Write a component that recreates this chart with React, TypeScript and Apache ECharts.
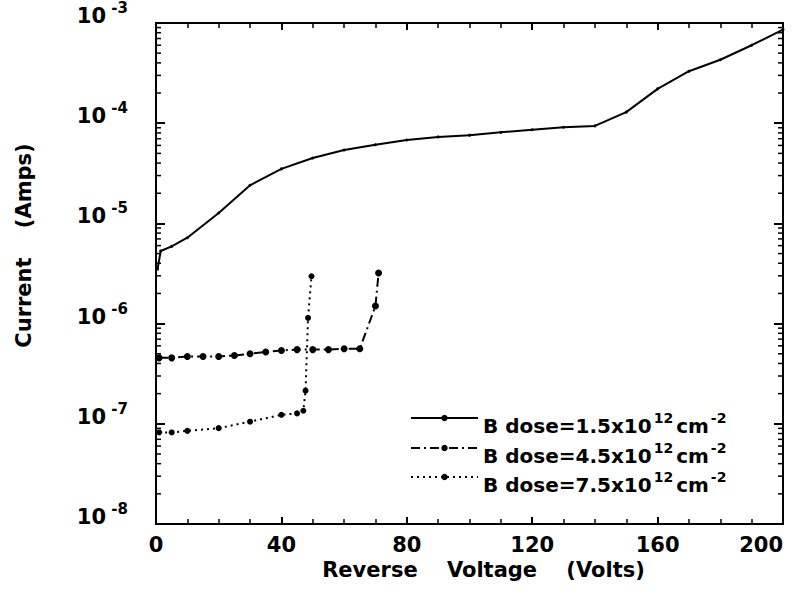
import React, { useEffect, useRef } from 'react';
import * as echarts from 'echarts';

// Reverse voltage (V) / current (A)
const voltsA = [0.5, 1.5, 5, 10, 20, 30, 40, 50, 60, 70, 80, 90, 100, 110, 120, 130, 140, 150, 160, 170, 180, 190, 200];
const currentA = [3.5e-6, 5.3e-6, 5.9e-6, 7.2e-6, 1.27e-5, 2.4e-5, 3.5e-5, 4.5e-5, 5.4e-5, 6.1e-5, 6.8e-5, 7.3e-5, 7.6e-5, 8.1e-5, 8.6e-5, 9.1e-5, 9.4e-5, 1.29e-4, 2.2e-4, 3.3e-4, 4.3e-4, 6.0e-4, 8.6e-4];

const voltsB = [1, 5, 10, 15, 20, 25, 30, 35, 40, 45, 50, 55, 60, 65, 70, 71];
const currentB = [4.55e-7, 4.55e-7, 4.7e-7, 4.7e-7, 4.7e-7, 4.8e-7, 5.0e-7, 5.2e-7, 5.4e-7, 5.5e-7, 5.5e-7, 5.5e-7, 5.6e-7, 5.6e-7, 1.5e-6, 3.2e-6];

const voltsC = [1, 5, 10, 20, 30, 40, 45, 47, 47.7, 48.5, 49.6];
const currentC = [8.2e-8, 8.2e-8, 8.5e-8, 9.05e-8, 1.05e-7, 1.23e-7, 1.27e-7, 1.35e-7, 2.14e-7, 1.14e-6, 2.97e-6];

const doses = ['1.5', '4.5', '7.5'];
const seriesNames = doses.map((d) => `B dose=${d}x10^12cm^-2`);

const xMin = 0;
const xMax = 200;
const xInterval = 40;
const yMin = 1e-8;
const yMax = 1e-3;

const FONT = 'DejaVu Sans';

function pairs(xs: number[], ys: number[]) {
  return xs.map((x, i) => [x, ys[i]]);
}

export default function App() {
  const ref = useRef<HTMLDivElement>(null);
  useEffect(() => {
    if (!ref.current) return;
    const chart = echarts.init(ref.current, undefined, { renderer: 'svg' });

    const minorVals: number[] = [];
    for (let e = -8; e < -3; e++) {
      for (let k = 2; k <= 9; k++) minorVals.push(k * Math.pow(10, e));
    }

    const black = '#000';
    const xAxisBase = {
      type: 'value',
      min: xMin,
      max: xMax,
      interval: xInterval,
      axisLine: { show: true, onZero: false, lineStyle: { color: black, width: 2 } },
      axisTick: { show: true, inside: true, length: 7, lineStyle: { color: black, width: 2 } },
      minorTick: { show: true, splitNumber: 4, length: 5, lineStyle: { color: black, width: 1.5 } },
      splitLine: { show: false },
      minorSplitLine: { show: false },
    };
    const yAxisBase = {
      type: 'log',
      logBase: 10,
      min: yMin,
      max: yMax,
      axisLine: { show: true, onZero: false, lineStyle: { color: black, width: 2 } },
      axisTick: { show: true, inside: true, length: 9, lineStyle: { color: black, width: 2 } },
      minorTick: { show: false },
      splitLine: { show: false },
    };

    const legendRich = {
      b: {
        fontFamily: FONT,
        fontWeight: 'bold',
        fontSize: 20,
        lineHeight: 18,
        color: black,
        padding: [16, 0, 0, 0],
      },
      s: {
        fontFamily: FONT,
        fontWeight: 'bold',
        fontSize: 14,
        lineHeight: 14,
        color: black,
        verticalAlign: 'top',
        padding: [2, 3, 0, 2],
      },
    };
    const legendTops = [400, 430, 459];

    const option: any = {
      animation: false,
      backgroundColor: '#fff',
      grid: [
        { left: 156, right: 24, top: 23, bottom: 82, containLabel: false, outerBoundsMode: 'none' },
        // same scale, raised, only used to place the exponents as superscripts
        { left: 156, right: 24, top: 8, bottom: 97, containLabel: false, outerBoundsMode: 'none' },
      ],
      xAxis: [
        {
          ...xAxisBase,
          gridIndex: 0,
          position: 'bottom',
          axisLabel: {
            color: black,
            fontSize: 21,
            fontWeight: 'bold',
            fontFamily: FONT,
            margin: 10,
            alignMaxLabel: 'right',
          },
          name: 'Reverse    Voltage    (Volts)',
          nameLocation: 'middle',
          nameGap: 30,
          nameTextStyle: {
            color: black,
            fontSize: 21,
            fontWeight: 'bold',
            fontFamily: FONT,
            padding: [0, 0, 0, 28],
          },
        },
        {
          ...xAxisBase,
          gridIndex: 0,
          position: 'top',
          axisLabel: { show: false },
        },
        {
          type: 'value',
          gridIndex: 1,
          min: xMin,
          max: xMax,
          interval: xInterval,
          show: false,
        },
      ],
      yAxis: [
        {
          ...yAxisBase,
          gridIndex: 0,
          position: 'left',
          axisLabel: {
            color: black,
            fontFamily: FONT,
            fontWeight: 'bold',
            fontSize: 21,
            lineHeight: 14,
            margin: 50,
            verticalAlign: 'bottom',
            formatter: () => '10',
          },
          name: 'Current    (Amps)',
          nameLocation: 'middle',
          nameGap: 122,
          nameTextStyle: {
            color: black,
            fontSize: 21,
            fontWeight: 'bold',
            fontFamily: FONT,
            padding: [0, 0, 0, 56],
          },
        },
        {
          ...yAxisBase,
          gridIndex: 0,
          position: 'right',
          axisLabel: { show: false },
        },
        {
          ...yAxisBase,
          gridIndex: 1,
          position: 'left',
          axisLine: { show: false },
          axisTick: { show: false },
          axisLabel: {
            color: black,
            fontFamily: FONT,
            fontWeight: 'bold',
            fontSize: 15,
            lineHeight: 15,
            margin: 28,
            formatter: (v: number) => `${Math.round(Math.log10(v))}`,
          },
        },
      ],
      legend: doses.map((d, i) => ({
        data: [seriesNames[i]],
        left: 410,
        top: legendTops[i],
        orient: 'vertical',
        padding: 0,
        itemWidth: 67,
        itemHeight: 8,
        selectedMode: false,
        formatter: () => `{b|B dose=${d}x10}{s|12}{b|cm}{s|-2}`,
        textStyle: { color: black, rich: legendRich },
      })),
      series: [
        {
          name: seriesNames[0],
          type: 'line',
          xAxisIndex: 0,
          yAxisIndex: 0,
          data: pairs(voltsA, currentA),
          symbol: 'circle',
          symbolSize: 3,
          showSymbol: true,
          itemStyle: { color: black },
          lineStyle: { color: black, width: 2, type: 'solid' },
          z: 3,
        },
        {
          name: seriesNames[1],
          type: 'line',
          xAxisIndex: 0,
          yAxisIndex: 0,
          data: pairs(voltsB, currentB),
          symbol: 'circle',
          symbolSize: 7,
          showSymbol: true,
          itemStyle: { color: black },
          lineStyle: { color: black, width: 2, type: [9, 4, 2, 4] },
          z: 3,
        },
        {
          name: seriesNames[2],
          type: 'line',
          xAxisIndex: 0,
          yAxisIndex: 0,
          data: pairs(voltsC, currentC),
          symbol: 'circle',
          symbolSize: 6,
          showSymbol: true,
          itemStyle: { color: black },
          lineStyle: { color: black, width: 2, type: [2, 4] },
          z: 3,
        },
        {
          type: 'custom',
          silent: true,
          clip: false,
          xAxisIndex: 0,
          yAxisIndex: 0,
          data: minorVals.map((v) => [xMin, v]),
          encode: { x: 0, y: 1 },
          renderItem: (_params: any, api: any) => {
            const v = api.value(1);
            const pl = api.coord([xMin, v]);
            const pr = api.coord([xMax, v]);
            const st = { stroke: black, lineWidth: 1.5 };
            return {
              type: 'group',
              children: [
                { type: 'line', shape: { x1: pl[0], y1: pl[1], x2: pl[0] + 5, y2: pl[1] }, style: st },
                { type: 'line', shape: { x1: pr[0] - 5, y1: pr[1], x2: pr[0], y2: pr[1] }, style: st },
              ],
            };
          },
          z: 2,
        },
      ],
    };

    chart.setOption(option);
    return () => {
      chart.dispose();
    };
  }, []);

  return (
    <div
      ref={ref}
      style={{ position: 'fixed', left: 0, top: 0, width: 807, height: 606, background: '#fff' }}
    />
  );
}
